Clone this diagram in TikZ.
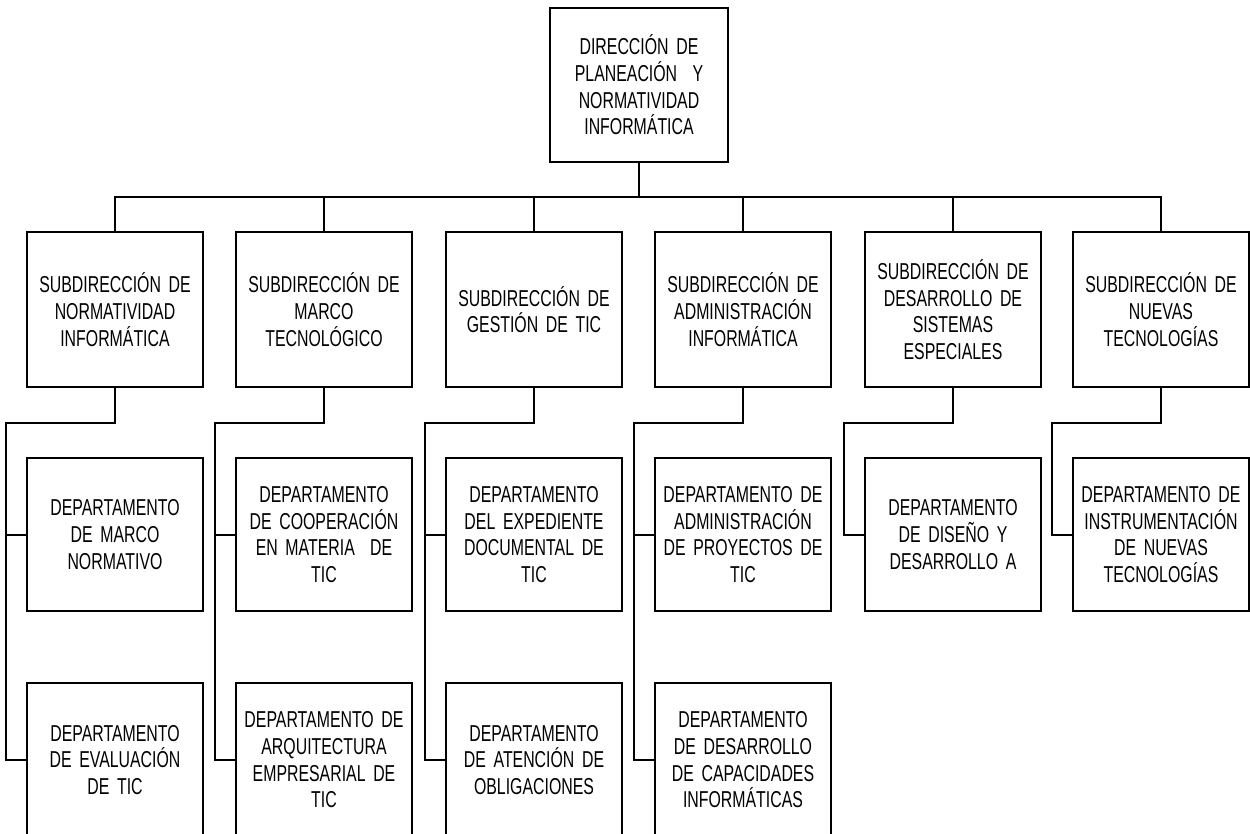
\documentclass[tikz,border=0pt]{standalone}
\usepackage{fontspec}
\setmainfont{Liberation Sans}[FakeStretch=0.69,WordSpace=0.75]
\begin{document}
\begin{tikzpicture}[x=1pt,y=-1pt,
  box/.style={draw, line width=2pt, minimum width=176pt, text width=172pt,
    align=center, inner sep=0pt, font=\fontsize{23}{26.7}\selectfont},
  subbox/.style={box, minimum height=155pt},
  depbox/.style={box, minimum height=153pt},
  conn/.style={line width=2pt}]
\useasboundingbox (0,0) rectangle (1250,833);
\clip (0,0) rectangle (1250,833);
\fill[white] (0,0) rectangle (1250,833);
% top
\node[box, minimum width=178pt, minimum height=154pt] (top) at (639,85)
  {DIRECCIÓN DE\\PLANEACIÓN\ \ Y\\NORMATIVIDAD\\INFORMÁTICA};
% sub row
\node[subbox] (s1) at (115,309.5) {SUBDIRECCIÓN DE\\NORMATIVIDAD\\INFORMÁTICA};
\node[subbox] (s2) at (324,309.5) {SUBDIRECCIÓN DE\\MARCO\\TECNOLÓGICO};
\node[subbox] (s3) at (534,309.5) {SUBDIRECCIÓN DE\\GESTIÓN DE TIC};
\node[subbox] (s4) at (743,309.5) {SUBDIRECCIÓN DE\\ADMINISTRACIÓN\\INFORMÁTICA};
\node[subbox] (s5) at (953,309.5) {SUBDIRECCIÓN DE\\DESARROLLO DE\\SISTEMAS\\ESPECIALES};
\node[subbox] (s6) at (1161,309.5) {SUBDIRECCIÓN DE\\NUEVAS\\TECNOLOGÍAS};
% dept row 1
\node[depbox] (d1a) at (115,534.5) {DEPARTAMENTO\\DE MARCO\\NORMATIVO};
\node[depbox] (d2a) at (324,534.5) {DEPARTAMENTO\\DE COOPERACIÓN\\EN MATERIA\ \ DE\\TIC};
\node[depbox] (d3a) at (534,534.5) {DEPARTAMENTO\\DEL EXPEDIENTE\\DOCUMENTAL DE\\TIC};
\node[depbox] (d4a) at (743,534.5) {DEPARTAMENTO DE\\ADMINISTRACIÓN\\DE PROYECTOS DE\\TIC};
\node[depbox] (d5a) at (953,534.5) {DEPARTAMENTO\\DE DISEÑO Y\\DESARROLLO A};
\node[depbox] (d6a) at (1161,534.5) {DEPARTAMENTO DE\\INSTRUMENTACIÓN\\DE NUEVAS\\TECNOLOGÍAS};
% dept row 2
\node[depbox, minimum height=154pt] (d1b) at (115,760) {DEPARTAMENTO\\DE EVALUACIÓN\\DE TIC};
\node[depbox, minimum height=154pt] (d2b) at (324,760) {DEPARTAMENTO DE\\ARQUITECTURA\\EMPRESARIAL DE\\TIC};
\node[depbox, minimum height=154pt] (d3b) at (534,760) {DEPARTAMENTO\\DE ATENCIÓN DE\\OBLIGACIONES};
\node[depbox, minimum height=154pt] (d4b) at (743,760) {DEPARTAMENTO\\DE DESARROLLO\\DE CAPACIDADES\\INFORMÁTICAS};
% bus
\coordinate (bus) at (639,197);
\draw[conn] (top.south) -- (bus);
\draw[conn] (s1.north) -- (s1.north |- bus) -- (s6.north |- bus) -- (s6.north);
\foreach \s in {s2,s3,s4,s5} \draw[conn] (\s.north) -- (\s.north |- bus);
% sub to dept connectors
\foreach \i in {1,2,3,4}{
  \draw[conn] (s\i.south) -- ++(0,35) -| ([xshift=-20pt]d\i b.west) -- (d\i b.west);
  \draw[conn] ([xshift=-20pt]d\i a.west) -- (d\i a.west);
}
\foreach \i in {5,6}{
  \draw[conn] (s\i.south) -- ++(0,35) -| ([xshift=-20pt]d\i a.west) -- (d\i a.west);
}
\end{tikzpicture}
\end{document}
